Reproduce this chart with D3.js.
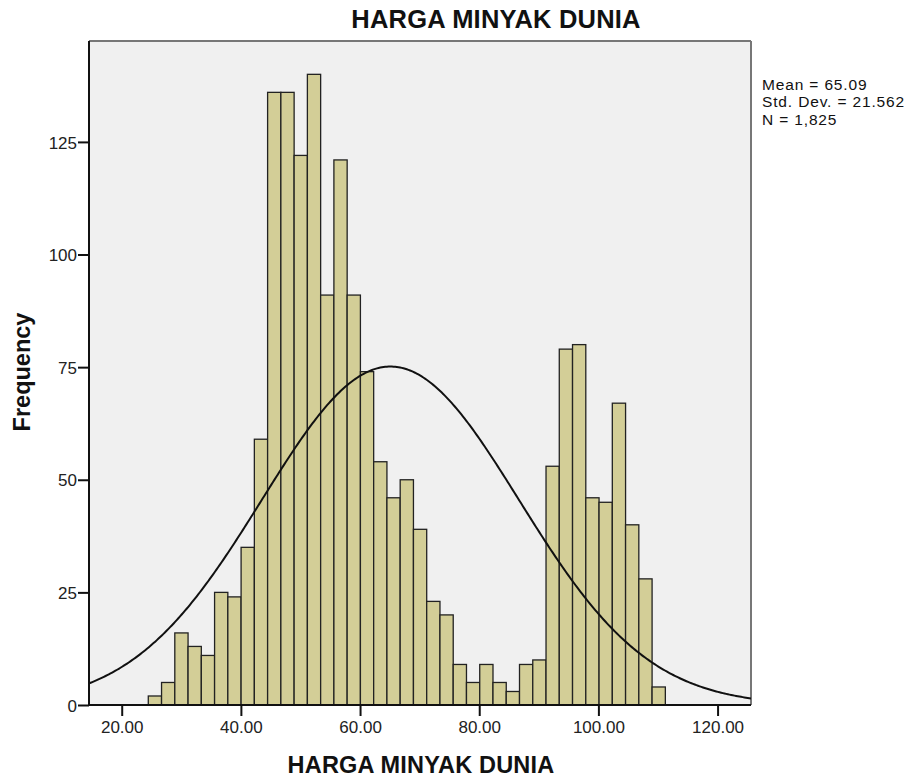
<!DOCTYPE html>
<html>
<head>
<meta charset="utf-8">
<script src="https://cdn.jsdelivr.net/npm/d3@7"></script>
<style>
  html, body { margin: 0; padding: 0; background: #fff; }
  svg { display: block; font-family: "Liberation Sans", Arial, sans-serif; }
</style>
</head>
<body>
<svg id="chart" width="908" height="778"></svg>
<script>
// ---- data ----
const binStart = 24.46;
const binWidth = 2.225;
const frequencies = [2, 5, 16, 13, 11, 25, 24, 35, 59, 136, 136, 122, 140, 91, 121, 91,
  74, 54, 46, 50, 39, 23, 20, 9, 5, 9, 5, 3, 9, 10, 53, 79, 80, 46, 45, 67, 40, 28, 4];
const xTicks = [20, 40, 60, 80, 100, 120];
const yTicks = [0, 25, 50, 75, 100, 125];
const statsLines = ["Mean = 65.09", "Std. Dev. = 21.562", "N = 1,825"];
const meanVal = 65.09, sdVal = 21.562, nVal = 1825;
const titleText = "HARGA MINYAK DUNIA";
const xLabel = "HARGA MINYAK DUNIA";
const yLabel = "Frequency";

// ---- layout ----
const plot = { left: 89, right: 751, top: 41, bottom: 705 };
const svg = d3.select("#chart");

const x = d3.scaleLinear().domain([14.51, 125.61]).range([plot.left, plot.right]);
const y = d3.scaleLinear().domain([0, 147.4]).range([plot.bottom, plot.top]);

const bins = frequencies.map((f, i) => ({ x0: binStart + i * binWidth, x1: binStart + (i + 1) * binWidth, f }));

// background
svg.append("rect")
  .attr("x", plot.left).attr("y", plot.top)
  .attr("width", plot.right - plot.left).attr("height", plot.bottom - plot.top)
  .attr("fill", "#f0f0f0");

// top & right borders
svg.append("line").attr("x1", plot.left).attr("x2", plot.right).attr("y1", plot.top).attr("y2", plot.top)
  .attr("stroke", "#777").attr("stroke-width", 2);
svg.append("line").attr("x1", plot.right).attr("x2", plot.right).attr("y1", plot.top).attr("y2", plot.bottom)
  .attr("stroke", "#777").attr("stroke-width", 2);

// clip
svg.append("clipPath").attr("id", "clip").append("rect")
  .attr("x", plot.left).attr("y", plot.top)
  .attr("width", plot.right - plot.left).attr("height", plot.bottom - plot.top);

// bars
svg.append("g").selectAll("rect").data(bins).join("rect")
  .attr("x", d => x(d.x0))
  .attr("y", d => y(d.f))
  .attr("width", d => x(d.x1) - x(d.x0))
  .attr("height", d => y(0) - y(d.f))
  .attr("fill", "#d3ce97")
  .attr("stroke", "#222")
  .attr("stroke-width", 1.3);

// normal curve
const scaleFactor = nVal * binWidth / (sdVal * Math.sqrt(2 * Math.PI));
const curvePts = d3.range(0, 401).map(i => {
  const xv = x.domain()[0] + (x.domain()[1] - x.domain()[0]) * i / 400;
  const z = (xv - meanVal) / sdVal;
  return [xv, scaleFactor * Math.exp(-0.5 * z * z)];
});
svg.append("path")
  .datum(curvePts)
  .attr("clip-path", "url(#clip)")
  .attr("fill", "none")
  .attr("stroke", "#111")
  .attr("stroke-width", 2)
  .attr("d", d3.line().x(d => x(d[0])).y(d => y(d[1])).curve(d3.curveLinear));

// axes
const xAxis = svg.append("g")
  .attr("transform", `translate(0,${plot.bottom})`)
  .call(d3.axisBottom(x).tickValues(xTicks).tickFormat(d3.format(".2f")).tickSizeInner(11).tickSizeOuter(0).tickPadding(5));
const yAxis = svg.append("g")
  .attr("transform", `translate(${plot.left},0)`)
  .call(d3.axisLeft(y).tickValues(yTicks).tickFormat(d3.format("d")).tickSizeInner(11).tickSizeOuter(0).tickPadding(1));

[xAxis, yAxis].forEach(g => {
  g.select(".domain").attr("stroke", "#111").attr("stroke-width", 2);
  g.selectAll(".tick line").attr("stroke", "#111").attr("stroke-width", 2);
  g.selectAll(".tick text").attr("fill", "#222").style("font-size", "17px")
    .style("font-family", "'Liberation Sans', Arial, sans-serif");
});
// extend domains to full plot edges
xAxis.select(".domain").attr("d", `M${plot.left - 1},0H${plot.right}`);
yAxis.select(".domain").attr("d", `M0,${plot.top}V${plot.bottom + 1}`);
yAxis.selectAll(".tick text").attr("dy", "0.36em");

// title
svg.append("text")
  .attr("x", 496).attr("y", 28)
  .attr("text-anchor", "middle")
  .style("font-size", "25.5px").style("font-weight", "bold")
  .style("letter-spacing", "0.2px")
  .attr("fill", "#111")
  .text(titleText);

// x label
svg.append("text")
  .attr("x", (plot.left + plot.right) / 2 + 1).attr("y", 773)
  .attr("text-anchor", "middle")
  .style("font-size", "23.5px").style("font-weight", "bold")
  .style("letter-spacing", "0.2px")
  .attr("fill", "#111")
  .text(xLabel);

// y label
svg.append("text")
  .attr("transform", `translate(30,372) rotate(-90)`)
  .attr("text-anchor", "middle")
  .style("font-size", "23.5px").style("font-weight", "bold")
  .attr("fill", "#111")
  .text(yLabel);

// stats
svg.append("g").selectAll("text").data(statsLines).join("text")
  .attr("x", 762)
  .attr("y", (d, i) => 90 + i * 17.4)
  .style("font-size", "15.5px")
  .style("letter-spacing", "0.85px")
  .attr("fill", "#111")
  .text(d => d);
</script>
</body>
</html>
